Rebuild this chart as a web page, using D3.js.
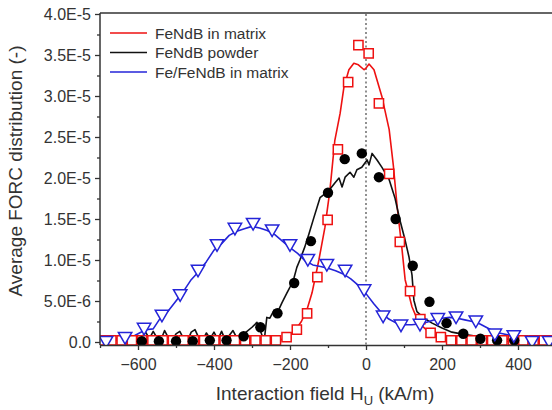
<!DOCTYPE html>
<html>
<head>
<meta charset="utf-8">
<script src="https://cdn.jsdelivr.net/npm/d3@7"></script>
<style>
  body { margin: 0; background: #fff; }
  svg text { font-family: "Liberation Sans", Arial, sans-serif; fill: #333; }
</style>
</head>
<body>
<div id="chart"></div>
<script>
// values in units of 1E-5
const seriesNames = ["FeNdB in matrix", "FeNdB powder", "Fe/FeNdB in matrix"];
const seriesColors = ["#ee1111", "#111111", "#2424d8"];

// FeNdB in matrix - measured curve
const redLine = [
  [-700,0.02],[-660,0.02],[-620,0.03],[-580,0.02],[-540,0.02],[-500,0.03],[-460,0.02],[-420,0.02],
  [-380,0.03],[-340,0.02],[-300,0.02],[-260,0.02],[-229,0.02],[-210,0.05],[-190,0.12],[-170,0.25],
  [-155,0.40],[-142,0.60],[-124,1.0],[-108,1.40],[-95,1.85],[-82,2.46],[-68,2.79],[-58,3.11],
  [-45,3.32],[-32,3.40],[-20,3.38],[-5,3.32],[0,3.34],[8,3.39],[21,3.32],[42,2.99],[61,2.59],
  [72,2.15],[82,1.65],[95,1.12],[103,0.76],[121,0.43],[139,0.23],[166,0.12],[200,0.05],[234,0.02],
  [300,0.01],[400,0.01],[500,0.01]
];
// FeNdB in matrix - squares
const redMarkX = [-697,-670,-643,-616,-589,-562,-535,-508,-480,-453,-426,-399,-372,-345,-318,-291,
  -264,-237,-209,-182,-155,-128,-101,-74,-47,-20,7,34,61,89,116,143,170,197,224,251,278,305,332,359,
  387,414,441,468,495];
const redMarkY = [0.02,0.02,0.02,0.02,0.02,0.02,0.02,0.02,0.02,0.02,0.02,0.02,0.02,0.02,0.02,0.02,
  0.02,0.02,0.06,0.15,0.35,0.79,1.49,2.35,3.17,3.62,3.52,2.91,2.05,1.22,0.62,0.28,0.11,0.06,0.02,0.02,
  0.02,0.02,0.02,0.02,0.02,0.02,0.02,0.02,0.02];

// FeNdB powder - measured curve
const blackLine = [
  [-700,0.02],[-690,0.03],[-680,0.02],[-670,0.05],[-660,0.03],[-650,0.06],[-640,0.02],[-630,0.04],
  [-620,0.08],[-610,0.03],[-600,0.01],[-590,0.06],[-580,0.12],[-570,0.04],[-560,0.13],[-550,0.05],
  [-540,0.02],[-530,0.14],[-520,0.05],[-510,0.02],[-500,0.10],[-490,0.13],[-480,0.04],[-470,0.01],
  [-460,0.12],[-450,0.15],[-440,0.05],[-430,0.02],[-420,0.11],[-410,0.04],[-400,0.12],[-390,0.03],
  [-380,0.13],[-370,0.02],[-360,0.08],[-350,0.14],[-340,0.05],[-330,0.10],[-318,0.11],[-300,0.18],
  [-287,0.24],[-279,0.15],[-268,0.01],[-261,0.30],[-253,0.29],[-242,0.39],[-234,0.35],[-221,0.48],
  [-208,0.60],[-200,0.67],[-189,0.79],[-182,0.91],[-174,1.0],[-161,1.16],[-150,1.32],[-137,1.52],
  [-121,1.76],[-110,1.80],[-97,1.85],[-82,1.94],[-71,2.0],[-63,1.89],[-55,2.01],[-42,2.07],[-32,2.01],
  [-24,2.10],[-11,2.13],[3,2.22],[8,2.16],[16,2.30],[29,2.22],[42,2.13],[61,1.98],[76,1.76],[89,1.49],
  [103,1.24],[113,1.04],[121,0.82],[126,0.51],[134,0.37],[153,0.29],[174,0.23],[200,0.17],[226,0.12],
  [261,0.09],[305,0.06],[350,0.04],[400,0.03],[450,0.02],[500,0.02]
];
// FeNdB powder - dots
const blackMarkX = [-590,-545,-500,-456,-411,-367,-322,-278,-233,-189,-145,-100,-56,-11,34,78,123,
  167,212,256,301,345,390];
const blackMarkY = [0.01,0.01,0.01,0.01,0.02,0.02,0.07,0.18,0.35,0.72,1.23,1.82,2.23,2.30,2.01,1.50,
  0.93,0.49,0.23,0.10,0.04,0.02,0.02];

// Fe/FeNdB in matrix - measured curve
const blueLine = [
  [-700,0.03],[-680,0.04],[-660,0.03],[-640,0.06],[-620,0.05],[-600,0.10],[-580,0.15],[-560,0.16],
  [-540,0.30],[-520,0.38],[-500,0.50],[-480,0.62],[-460,0.76],[-440,0.86],[-420,0.98],[-400,1.12],
  [-380,1.20],[-360,1.30],[-340,1.35],[-320,1.38],[-300,1.41],[-280,1.39],[-260,1.36],[-240,1.31],
  [-220,1.23],[-200,1.15],[-180,1.08],[-160,0.99],[-140,0.94],[-120,0.92],[-100,0.90],[-80,0.87],
  [-60,0.83],[-40,0.77],[-20,0.69],[0,0.59],[20,0.47],[40,0.36],[60,0.28],[80,0.23],[100,0.21],
  [120,0.21],[140,0.22],[160,0.24],[180,0.27],[200,0.29],[220,0.30],[240,0.29],[260,0.27],[280,0.25],
  [300,0.22],[320,0.17],[340,0.12],[360,0.10],[380,0.08],[400,0.07],[420,0.05],[440,0.04],[460,0.03],
  [480,0.03],[500,0.02]
];
// Fe/FeNdB in matrix - triangles
const blueMarkX = [-684,-634,-584,-537,-489,-442,-392,-345,-297,-247,-200,-153,-103,-55,-5,45,92,142,
  189,237,289,339,389,437,482];
const blueMarkY = [0.02,0.07,0.18,0.34,0.59,0.89,1.20,1.40,1.46,1.38,1.20,1.02,0.96,0.89,0.65,0.33,
  0.22,0.23,0.30,0.32,0.27,0.11,0.09,0.02,0.02];

const xTicks = [-600, -400, -200, 0, 200, 400];
const yTicks = [0, 0.5, 1.0, 1.5, 2.0, 2.5, 3.0, 3.5, 4.0];
const yTickLabels = ["0.0", "5.0E-6", "1.0E-5", "1.5E-5", "2.0E-5", "2.5E-5", "3.0E-5", "3.5E-5", "4.0E-5"];

const width = 552, height = 410;

const svg = d3.select("#chart").append("svg")
  .attr("width", width)
  .attr("height", height);

const x = d3.scaleLinear().domain([-700, 500]).range([100, 556]);
const y = d3.scaleLinear().domain([0, 4.0]).range([342, 14]);
const axisY = 345;

// clip to plot area
svg.append("clipPath").attr("id", "plot")
  .append("rect").attr("x", 100).attr("y", 10).attr("width", 460).attr("height", axisY - 10);

const plot = svg.append("g").attr("clip-path", "url(#plot)");

// dotted zero line
plot.append("line")
  .attr("x1", x(0)).attr("x2", x(0))
  .attr("y1", y(4.0)).attr("y2", axisY)
  .attr("stroke", "#555").attr("stroke-width", 1.3).attr("stroke-dasharray", "2,2.5");

const line = d3.line().x(d => x(d[0])).y(d => y(d[1]));

// lines
[redLine, blackLine, blueLine].forEach((pts, i) => {
  plot.append("path")
    .datum(pts)
    .attr("d", line)
    .attr("fill", "none")
    .attr("stroke", seriesColors[i])
    .attr("stroke-width", 1.6)
    .attr("stroke-linejoin", "round");
});

// markers
const squareSym = d3.symbol().type(d3.symbolSquare).size(85);
plot.selectAll(".sq")
  .data(redMarkX.map((v, i) => [v, redMarkY[i]]))
  .enter().append("path")
  .attr("d", squareSym)
  .attr("transform", d => `translate(${x(d[0])},${y(d[1])})`)
  .attr("fill", "#fff").attr("stroke", seriesColors[0]).attr("stroke-width", 1.5);

plot.selectAll(".dot")
  .data(blackMarkX.map((v, i) => [v, blackMarkY[i]]))
  .enter().append("circle")
  .attr("cx", d => x(d[0]))
  .attr("cy", d => y(d[1]))
  .attr("r", 5.2)
  .attr("fill", "#000");

const triSym = d3.symbol().type(d3.symbolTriangle).size(78);
plot.selectAll(".tri")
  .data(blueMarkX.map((v, i) => [v, blueMarkY[i]]))
  .enter().append("path")
  .attr("d", triSym)
  .attr("transform", d => `translate(${x(d[0])},${y(d[1])}) rotate(180)`)
  .attr("fill", "#fff").attr("stroke", seriesColors[2]).attr("stroke-width", 1.5);

// axes
const axisColor = "#333";
svg.append("line").attr("x1", 100).attr("x2", width).attr("y1", 13).attr("y2", 13)
  .attr("stroke", axisColor).attr("stroke-width", 1.5);

const gx = svg.append("g").attr("transform", `translate(0,${axisY})`)
  .call(d3.axisBottom(x).tickValues(xTicks).tickSize(5).tickSizeOuter(0).tickPadding(9));
svg.append("g").attr("transform", `translate(0,${axisY})`)
  .call(d3.axisBottom(x).tickValues([-700, -500, -300, -100, 100, 300, 500]).tickSize(3).tickFormat("").tickSizeOuter(0))
  .select(".domain").remove();

const gy = svg.append("g").attr("transform", "translate(100,0)")
  .call(d3.axisLeft(y).tickValues(yTicks).tickSize(5).tickPadding(4)
    .tickFormat((d, i) => yTickLabels[i]).tickSizeOuter(0));
svg.append("g").attr("transform", "translate(100,0)")
  .call(d3.axisLeft(y).tickValues([0.25, 0.75, 1.25, 1.75, 2.25, 2.75, 3.25, 3.75]).tickSize(3).tickFormat(""))
  .select(".domain").remove();

svg.selectAll(".domain").attr("stroke", axisColor).attr("stroke-width", 1.5);
svg.selectAll(".tick line").attr("stroke", axisColor).attr("stroke-width", 1.3);
gx.selectAll("text").style("font-size", "16px").attr("fill", "#333");
gy.selectAll("text").style("font-size", "16px").attr("fill", "#333");
gy.select(".domain").attr("d", `M0,${axisY}V13`);

// axis titles
const xTitle = svg.append("text")
  .attr("x", 325).attr("y", 400)
  .attr("text-anchor", "middle")
  .style("font-size", "19px");
xTitle.append("tspan").text("Interaction field H");
xTitle.append("tspan").attr("dy", 5).style("font-size", "13px").text("U");
xTitle.append("tspan").attr("dy", -5).text(" (kA/m)");

svg.append("text")
  .attr("transform", "translate(22,171) rotate(-90)")
  .attr("text-anchor", "middle")
  .style("font-size", "19px")
  .text("Average FORC distribution (-)");

// legend
const legend = svg.append("g").attr("transform", "translate(110,33)");
seriesNames.forEach((name, i) => {
  const g = legend.append("g").attr("transform", `translate(0,${i * 19.5})`);
  g.append("line").attr("x1", 0).attr("x2", 37).attr("y1", 0).attr("y2", 0)
    .attr("stroke", seriesColors[i]).attr("stroke-width", 1.6);
  g.append("text").attr("x", 45).attr("y", 5.5).style("font-size", "15.5px").text(name);
});
</script>
</body>
</html>
